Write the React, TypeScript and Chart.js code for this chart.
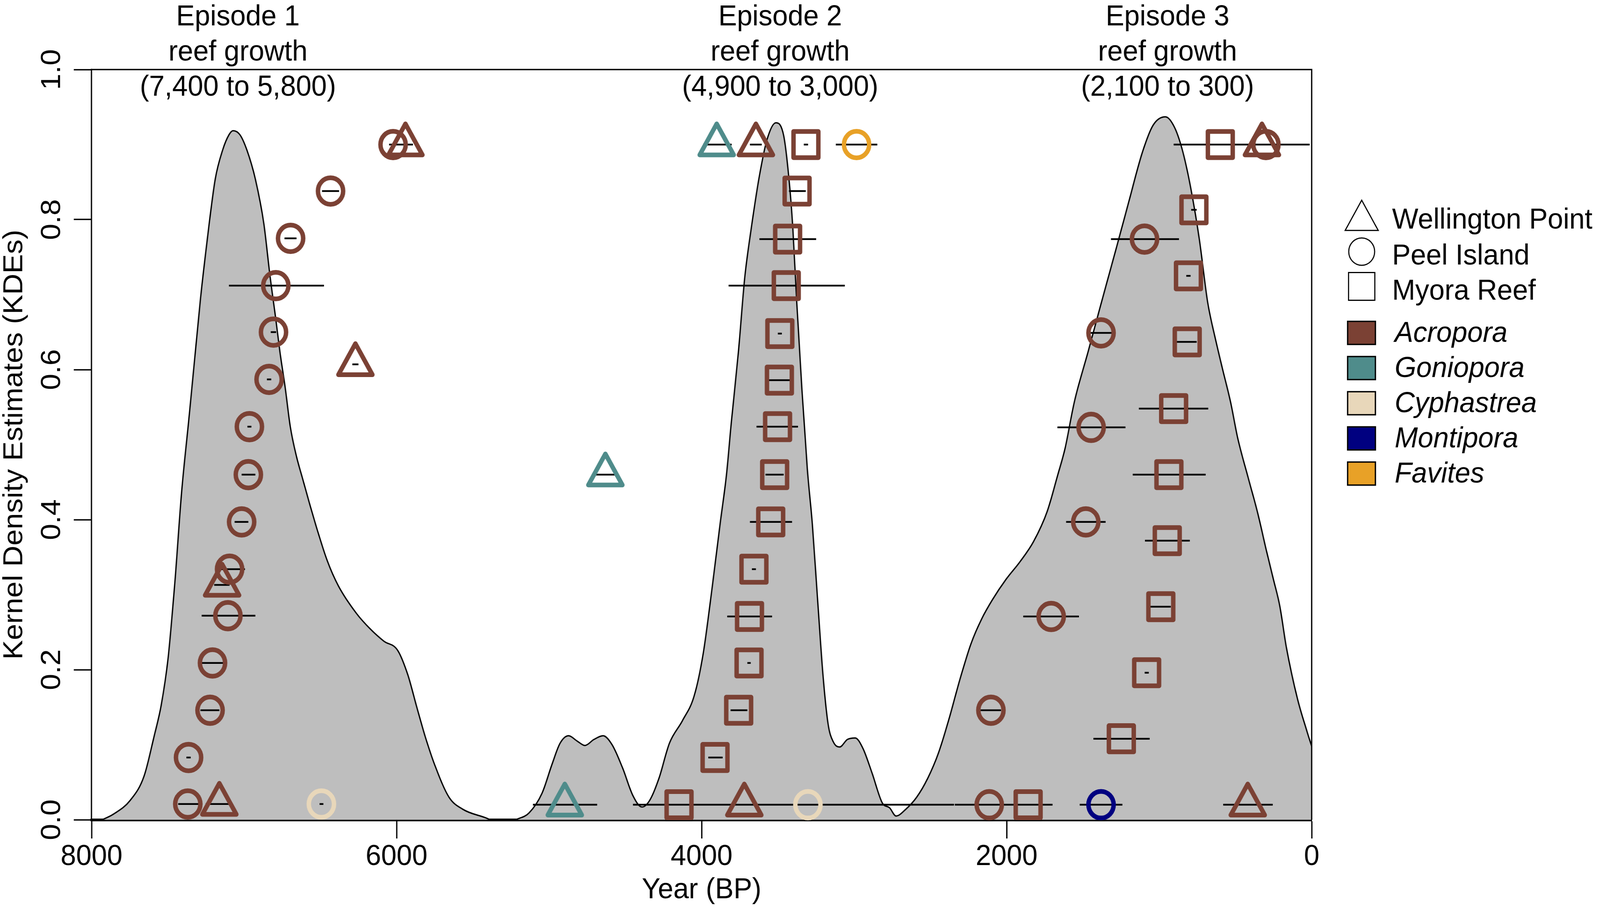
import React, { useEffect, useRef } from "react";
import { Chart, registerables } from "chart.js";

Chart.register(...registerables);

const FONT = "'Liberation Sans', Arial, Helvetica, sans-serif";
const W = 4317;
const H = 2329;

// ---------------- Kernel density curve (years BP, density) ----------------
const kdeEp1Years = [
  7930, 7860, 7746, 7656, 7589, 7544, 7499, 7454, 7409, 7364, 7324, 7286, 7241, 7189, 7140, 7099, 7072,
  7027, 6982, 6926, 6870, 6830, 6795, 6765, 6729, 6697, 6656, 6616, 6575, 6518, 6454, 6381, 6263, 6173,
  6083, 5993, 5926, 5870, 5814, 5746, 5656, 5566, 5409, 5388,
];
const kdeEp1Density = [
  0, 0.007, 0.026, 0.058, 0.112, 0.152, 0.214, 0.316, 0.438, 0.53, 0.614, 0.694, 0.774, 0.854, 0.893, 0.913, 0.9185,
  0.913, 0.893, 0.854, 0.794, 0.725, 0.672, 0.624, 0.574, 0.524, 0.484, 0.4545, 0.4246, 0.385, 0.345, 0.3115, 0.275, 0.2544,
  0.238, 0.2258, 0.193, 0.152, 0.112, 0.071, 0.03, 0.014, 0.002, 0,
];
const kdeEp23Years = [
  5217, 5132, 5047, 4979, 4928, 4872, 4817, 4765, 4706, 4646, 4587, 4518, 4450, 4391, 4340, 4280, 4211, 4126,
  4049, 3990, 3930, 3879, 3837, 3805, 3759, 3717, 3674, 3623, 3572, 3513, 3462, 3428, 3402, 3376, 3342, 3307,
  3274, 3240, 3205, 3171, 3137, 3095, 3044, 2993, 2942, 2882, 2814, 2768, 2725, 2661, 2590, 2518, 2447, 2377,
  2305, 2233, 2163, 2091, 2002, 1912, 1823, 1734, 1663, 1618, 1556, 1467, 1378, 1289, 1200, 1111, 1039, 959,
  897, 843, 790, 736, 682, 630, 581, 533, 484, 419, 354, 297, 249, 209, 166, 94, 31, 0,
];
const kdeEp23Density = [
  0, 0.009, 0.035, 0.075, 0.102, 0.112, 0.105, 0.099, 0.107, 0.112, 0.1, 0.069, 0.032, 0.017, 0.026, 0.055, 0.102, 0.132,
  0.165, 0.221, 0.311, 0.394, 0.46, 0.53, 0.623, 0.723, 0.789, 0.856, 0.906, 0.929, 0.912, 0.856, 0.789, 0.689, 0.573, 0.468,
  0.394, 0.295, 0.195, 0.128, 0.104, 0.097, 0.107, 0.109, 0.095, 0.062, 0.022, 0.016, 0.005, 0.014, 0.03, 0.055, 0.089, 0.135,
  0.188, 0.235, 0.268, 0.294, 0.321, 0.344, 0.371, 0.411, 0.461, 0.494, 0.557, 0.623, 0.69, 0.756, 0.823, 0.889, 0.926, 0.937,
  0.922, 0.889, 0.839, 0.773, 0.69, 0.64, 0.598, 0.558, 0.508, 0.458, 0.409, 0.359, 0.319, 0.285, 0.23, 0.162, 0.118, 0.098,
];

// ---------------- Episode annotations ----------------
const episodeTitles = ["Episode 1", "Episode 2", "Episode 3"];
const episodeSubtitle = "reef growth";
const episodeRanges = ["(7,400 to 5,800)", "(4,900 to 3,000)", "(2,100 to 300)"];
const episodeLabelYears = [7040, 3485, 945];

// ---------------- Legend entries ----------------
const siteNames = ["Wellington Point", "Peel Island", "Myora Reef"];
const genusNames = ["Acropora", "Goniopora", "Cyphastrea", "Montipora", "Favites"];

// ---------------- Dated samples: [year BP, KDE level, genus, range start, range end] ----------------
const wellingtonPoint = [
  [5942, 0.9, "Acropora", 6049, 5893],
  [6270, 0.607, "Acropora", 6290, 6250],
  [7144, 0.313, "Acropora", 7196, 7095],
  [7162, 0.021, "Acropora", 7252, 7099],
  [3901, 0.9, "Goniopora", 3990, 3803],
  [3644, 0.9, "Acropora", 3683, 3606],
  [4631, 0.46, "Goniopora", 4697, 4569],
  [4897, 0.02, "Goniopora", 5106, 4685],
  [3720, 0.02, "Acropora", 3735, 3705],
  [326, 0.9, "Acropora", 345, 305],
  [419, 0.02, "Acropora", 580, 255],
];
const peelIsland = [
  [6023, 0.9, "Acropora", 6040, 6005],
  [6433, 0.838, "Acropora", 6489, 6377],
  [6695, 0.775, "Acropora", 6735, 6656],
  [6792, 0.712, "Acropora", 7099, 6476],
  [6807, 0.65, "Acropora", 6825, 6790],
  [6836, 0.587, "Acropora", 6850, 6822],
  [6965, 0.524, "Acropora", 6978, 6952],
  [6972, 0.46, "Acropora", 7016, 6926],
  [7016, 0.397, "Acropora", 7062, 6972],
  [7095, 0.334, "Acropora", 7162, 6994],
  [7106, 0.272, "Acropora", 7278, 6926],
  [7207, 0.209, "Acropora", 7297, 7118],
  [7223, 0.146, "Acropora", 7286, 7162],
  [7364, 0.083, "Acropora", 7378, 7350],
  [7369, 0.021, "Acropora", 7432, 7273],
  [6493, 0.021, "Cyphastrea", 6505, 6480],
  [2984, 0.9, "Favites", 3120, 2848],
  [3303, 0.02, "Cyphastrea", 4450, 2345],
  [300, 0.9, "Acropora", 315, 285],
  [1096, 0.774, "Acropora", 1316, 870],
  [1381, 0.649, "Acropora", 1449, 1307],
  [1446, 0.523, "Acropora", 1667, 1221],
  [1481, 0.397, "Acropora", 1610, 1351],
  [1708, 0.271, "Acropora", 1891, 1526],
  [2103, 0.146, "Acropora", 2171, 2037],
  [2114, 0.02, "Acropora", 2340, 1699],
  [1381, 0.02, "Montipora", 1521, 1241],
];
const myoraReef = [
  [3316, 0.9, "Acropora", 3330, 3302],
  [3374, 0.838, "Acropora", 3427, 3317],
  [3436, 0.774, "Acropora", 3621, 3249],
  [3445, 0.712, "Acropora", 3823, 3061],
  [3487, 0.648, "Acropora", 3500, 3474],
  [3490, 0.586, "Acropora", 3564, 3419],
  [3502, 0.524, "Acropora", 3640, 3368],
  [3521, 0.46, "Acropora", 3581, 3462],
  [3547, 0.397, "Acropora", 3683, 3407],
  [3657, 0.334, "Acropora", 3670, 3644],
  [3686, 0.271, "Acropora", 3832, 3538],
  [3689, 0.209, "Acropora", 3700, 3678],
  [3757, 0.146, "Acropora", 3810, 3700],
  [3912, 0.083, "Acropora", 3956, 3862],
  [4148, 0.02, "Acropora", 4160, 4136],
  [599, 0.9, "Acropora", 905, 13],
  [772, 0.813, "Acropora", 790, 754],
  [808, 0.725, "Acropora", 822, 794],
  [816, 0.637, "Acropora", 885, 754],
  [905, 0.548, "Acropora", 1133, 678],
  [936, 0.46, "Acropora", 1173, 695],
  [947, 0.372, "Acropora", 1093, 799],
  [989, 0.284, "Acropora", 1057, 924],
  [1082, 0.196, "Acropora", 1095, 1068],
  [1248, 0.108, "Acropora", 1431, 1062],
  [1859, 0.02, "Acropora", 1872, 1846],
];

// ---------------- Styles ----------------
const GENUS_COLORS: Record<string, string> = {
  Acropora: "#7B4134",
  Goniopora: "#4F8C8B",
  Cyphastrea: "#E8D7BA",
  Montipora: "#000080",
  Favites: "#E8A127",
};
const SITE_STYLES: Record<string, { pointStyle: string; radius: number }> = {
  "Wellington Point": { pointStyle: "triangle", radius: 53 },
  "Peel Island": { pointStyle: "circle", radius: 34 },
  "Myora Reef": { pointStyle: "rect", radius: 47.4 },
};

const annotationPlugin = {
  id: "annotations",
  beforeDatasetsDraw(chart: any) {
    chart.ctx.lineJoin = "round";
  },
  afterDatasetsDraw(chart: any) {
    chart.ctx.lineJoin = "miter";
  },
  afterDraw(chart: any) {
    const ctx = chart.ctx;
    const { left, right, top, bottom } = chart.chartArea;
    ctx.save();
    // box (top and right sides)
    ctx.strokeStyle = "#000";
    ctx.lineWidth = 3.5;
    ctx.beginPath();
    ctx.moveTo(left, top);
    ctx.lineTo(right, top);
    ctx.lineTo(right, bottom);
    ctx.stroke();

    // episode labels
    ctx.fillStyle = "#000";
    ctx.font = `75px ${FONT}`;
    ctx.textAlign = "center";
    ctx.textBaseline = "alphabetic";
    const xs = chart.scales.x;
    episodeTitles.forEach((t, i) => {
      const x = xs.getPixelForValue(episodeLabelYears[i]);
      ctx.fillText(t, x, 65);
      ctx.fillText(episodeSubtitle, x, 155);
      ctx.fillText(episodeRanges[i], x, 245);
    });

    // legend: sites
    ctx.textAlign = "left";
    ctx.lineWidth = 3;
    ctx.strokeStyle = "#000";
    const shapeX = 3674;
    const tr = 51.5;
    const ty = 564;
    ctx.beginPath();
    ctx.moveTo(shapeX, ty - tr);
    ctx.lineTo(shapeX + tr * Math.sin((2 * Math.PI) / 3), ty + tr / 2);
    ctx.lineTo(shapeX - tr * Math.sin((2 * Math.PI) / 3), ty + tr / 2);
    ctx.closePath();
    ctx.stroke();
    ctx.beginPath();
    ctx.arc(shapeX, 644, 35, 0, Math.PI * 2);
    ctx.stroke();
    ctx.strokeRect(shapeX - 35.5, 733 - 35.5, 71, 71);
    const siteBaselines = [585, 677, 767];
    siteNames.forEach((n, i) => ctx.fillText(n, 3756, siteBaselines[i]));

    // legend: genera
    const genusCenters = [852, 942, 1032, 1122, 1212];
    ctx.font = `italic 75px ${FONT}`;
    genusNames.forEach((g, i) => {
      const cy = genusCenters[i];
      ctx.fillStyle = GENUS_COLORS[g];
      ctx.fillRect(3636, cy - 29.5, 75, 59);
      ctx.strokeStyle = "#000";
      ctx.lineWidth = 3.5;
      ctx.strokeRect(3636, cy - 29.5, 75, 59);
      ctx.fillStyle = "#000";
      ctx.fillText(g, 3763, cy + 23);
    });
    ctx.restore();
  },
};

function viewportSize() {
  if (typeof window === "undefined") return { vw: W, vh: H };
  const de = document.documentElement;
  const vw = Math.min(window.innerWidth || W, (de && de.clientWidth) || W);
  const vh = Math.min(window.innerHeight || H, (de && de.clientHeight) || H);
  return { vw: Math.min(vw, W), vh: Math.min(vh, H) };
}

export default function App() {
  const canvasRef = useRef<HTMLCanvasElement | null>(null);
  const { vw, vh } = viewportSize();

  useEffect(() => {
    document.body.style.margin = "0";
    document.body.style.overflow = "hidden";
    const canvas = canvasRef.current;
    if (!canvas) return;

    const kdeDataset = (years: number[], dens: number[], label: string) => ({
      type: "line",
      label,
      data: years.map((x, i) => ({ x, y: dens[i] })),
      borderColor: "#000",
      borderWidth: 3.5,
      backgroundColor: "#BEBEBE",
      fill: "origin",
      pointRadius: 0,
      cubicInterpolationMode: "monotone",
      order: 10,
    });

    const allSamples: any[] = [...wellingtonPoint, ...peelIsland, ...myoraReef];
    const errData: any[] = [];
    allSamples.forEach((s) => {
      errData.push({ x: s[3], y: s[1] }, { x: s[4], y: s[1] }, { x: s[4], y: null });
    });

    const sites: [string, any[]][] = [
      [siteNames[0], wellingtonPoint],
      [siteNames[1], peelIsland],
      [siteNames[2], myoraReef],
    ];
    const markerDatasets = sites.map(([name, samples]) => ({
      type: "scatter",
      label: name,
      data: samples.map((s) => ({ x: s[0], y: s[1] })),
      pointStyle: SITE_STYLES[name].pointStyle,
      pointRadius: SITE_STYLES[name].radius,
      pointBorderWidth: 12,
      pointBorderColor: samples.map((s) => GENUS_COLORS[s[2]]),
      pointBackgroundColor: "rgba(0,0,0,0)",
      order: 1,
      clip: false,
    }));

    const tickGrid = {
      drawOnChartArea: false,
      drawTicks: true,
      tickLength: 48,
      tickWidth: 3.5,
      tickColor: "#000",
    };

    const chart = new Chart(canvas, {
      type: "scatter",
      data: {
        datasets: [
          kdeDataset(kdeEp1Years, kdeEp1Density, "KDE episode 1"),
          kdeDataset(kdeEp23Years, kdeEp23Density, "KDE episodes 2-3"),
          {
            type: "line",
            label: "Calibrated age ranges",
            data: errData,
            borderColor: "#000",
            borderWidth: 4.5,
            pointRadius: 0,
            fill: false,
            spanGaps: false,
            tension: 0,
            order: 5,
            clip: false,
          },
          ...markerDatasets,
        ] as any,
      },
      plugins: [annotationPlugin],
      options: {
        responsive: false,
        animation: false,
        devicePixelRatio: 1,
        events: [],
        layout: { padding: { left: 0, right: 778, top: 178, bottom: 0 } },
        plugins: {
          legend: { display: false },
          tooltip: { enabled: false },
        },
        scales: {
          x: {
            type: "linear",
            position: "bottom",
            reverse: true,
            min: 0,
            max: 8000,
            ticks: {
              stepSize: 2000,
              autoSkip: false,
              maxRotation: 0,
              minRotation: 0,
              padding: 2,
              color: "#000",
              font: { family: FONT, size: 75 },
              callback: (v: any) => String(v),
            },
            grid: tickGrid,
            border: { display: true, color: "#000", width: 7 },
            title: {
              display: true,
              text: "Year (BP)",
              color: "#000",
              font: { family: FONT, size: 75, lineHeight: 1 },
              padding: { top: 0, bottom: 13 },
            },
            afterFit: (s: any) => {
              s.height = 231;
            },
          },
          y: {
            type: "linear",
            position: "left",
            min: 0,
            max: 1,
            ticks: {
              stepSize: 0.2,
              autoSkip: false,
              minRotation: 90,
              maxRotation: 90,
              crossAlign: "center",
              padding: 6,
              color: "#000",
              font: { family: FONT, size: 75 },
              callback: (v: any) => Number(v).toFixed(1),
            },
            grid: tickGrid,
            border: { display: true, color: "#000", width: 3.5 },
            title: {
              display: true,
              text: "Kernel Density Estimates (KDEs)",
              color: "#000",
              font: { family: FONT, size: 75, lineHeight: 1 },
              padding: { top: 2, bottom: 0 },
            },
            afterFit: (s: any) => {
              s.width = 247;
            },
          },
        },
      } as any,
    });

    return () => {
      chart.destroy();
    };
  }, []);

  return (
    <div style={{ position: "absolute", left: 0, top: 0, width: vw, height: vh, background: "#fff", overflow: "hidden" }}>
      <canvas ref={canvasRef} width={W} height={H} style={{ display: "block", width: vw, height: vh }} />
    </div>
  );
}
